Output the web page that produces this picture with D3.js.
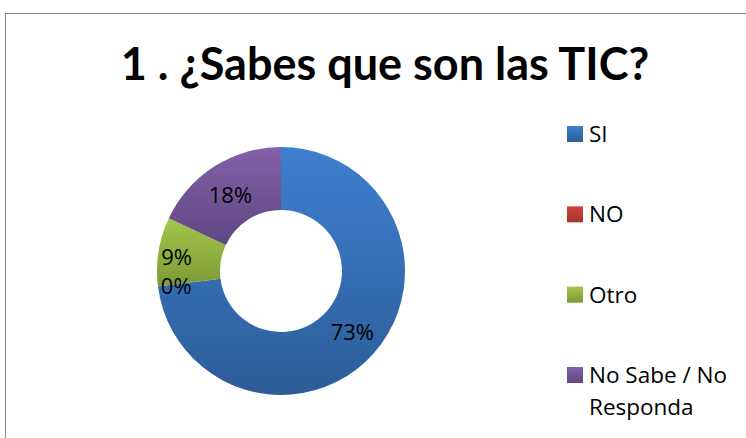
<!DOCTYPE html>
<html>
<head>
<meta charset="utf-8">
<script src="https://cdn.jsdelivr.net/npm/d3@7"></script>
<style>
  body { margin: 0; background: #fff; }
  svg { display: block; }
</style>
</head>
<body>
<script>
// Chart data
const categories = ["SI", "NO", "Otro", "No Sabe / No Responda"];
const values = [73, 0, 9, 18];
const labels = ["73%", "0%", "9%", "18%"];
const colorsTop = ["#3d80cf", "#d0433f", "#a3c64a", "#8461a8"];
const colorsBottom = ["#2d5c98", "#a8322f", "#7c9a36", "#5f4682"];

const width = 746;
const height = 438;

const svg = d3.select("body").append("svg")
    .attr("width", width)
    .attr("height", height);

// gradients for the Office-like look
const defs = svg.append("defs");
categories.forEach((c, i) => {
    const g = defs.append("linearGradient")
        .attr("id", "grad" + i)
        .attr("x1", 0).attr("y1", 0).attr("x2", 0).attr("y2", 1);
    g.append("stop").attr("offset", "0%").attr("stop-color", colorsTop[i]);
    g.append("stop").attr("offset", "100%").attr("stop-color", colorsBottom[i]);
});

// outer frame
svg.append("rect")
    .attr("x", 5.5).attr("y", 13.5)
    .attr("width", 760).attr("height", 440)
    .attr("fill", "none")
    .attr("stroke", "#868686")
    .attr("stroke-width", 1);

// title
svg.append("text")
    .attr("x", 385).attr("y", 80)
    .attr("text-anchor", "middle")
    .attr("font-family", "Lato, sans-serif")
    .attr("font-weight", "bold")
    .attr("font-size", 45)
    .attr("fill", "#000")
    .text("1 . ¿Sabes que son las TIC?");

// donut
const cx = 281, cy = 271;
const outerR = 124, innerR = 61;

const pie = d3.pie().sort(null).value(d => d);
const arcs = pie(values);
const arc = d3.arc().innerRadius(innerR).outerRadius(outerR);

const g = svg.append("g").attr("transform", `translate(${cx},${cy})`);

g.selectAll("path")
    .data(arcs)
    .enter().append("path")
        .attr("d", arc)
        .attr("fill", (d, i) => `url(#grad${i})`);

// slice labels (positions follow Excel's placement)
const labelArc = d3.arc().innerRadius((innerR + outerR) / 2).outerRadius((innerR + outerR) / 2);
const labelShift = [[2, -1], [-13, 2], [-13, -1], [-1, 1]];
g.selectAll("text")
    .data(arcs)
    .enter().append("text")
        .attr("x", (d, i) => labelArc.centroid(d)[0] + labelShift[i][0])
        .attr("y", (d, i) => labelArc.centroid(d)[1] + labelShift[i][1])
        .attr("text-anchor", "middle")
        .attr("dominant-baseline", "central")
        .attr("font-family", "'Open Sans', sans-serif")
        .attr("font-size", 22)
        .attr("fill", "#000")
        .text((d, i) => labels[i]);

// legend
const legendY = d3.scalePoint()
    .domain(categories)
    .range([134, 375]);

const legend = svg.append("g");
const item = legend.selectAll("g")
    .data(categories)
    .enter().append("g")
        .attr("transform", d => `translate(567,${legendY(d)})`);

item.append("rect")
    .attr("x", 0).attr("y", -8)
    .attr("width", 16).attr("height", 16)
    .attr("fill", (d, i) => `url(#grad${i})`);

item.append("text")
    .attr("x", 22).attr("y", 8)
    .attr("font-family", "'Open Sans', sans-serif")
    .attr("font-size", 22.5)
    .attr("fill", "#000")
    .each(function(d) {
        const t = d3.select(this);
        if (d === "No Sabe / No Responda") {
            t.append("tspan").attr("x", 22).text("No Sabe / No");
            t.append("tspan").attr("x", 22).attr("dy", 32).text("Responda");
        } else {
            t.text(d);
        }
    });
</script>
</body>
</html>
